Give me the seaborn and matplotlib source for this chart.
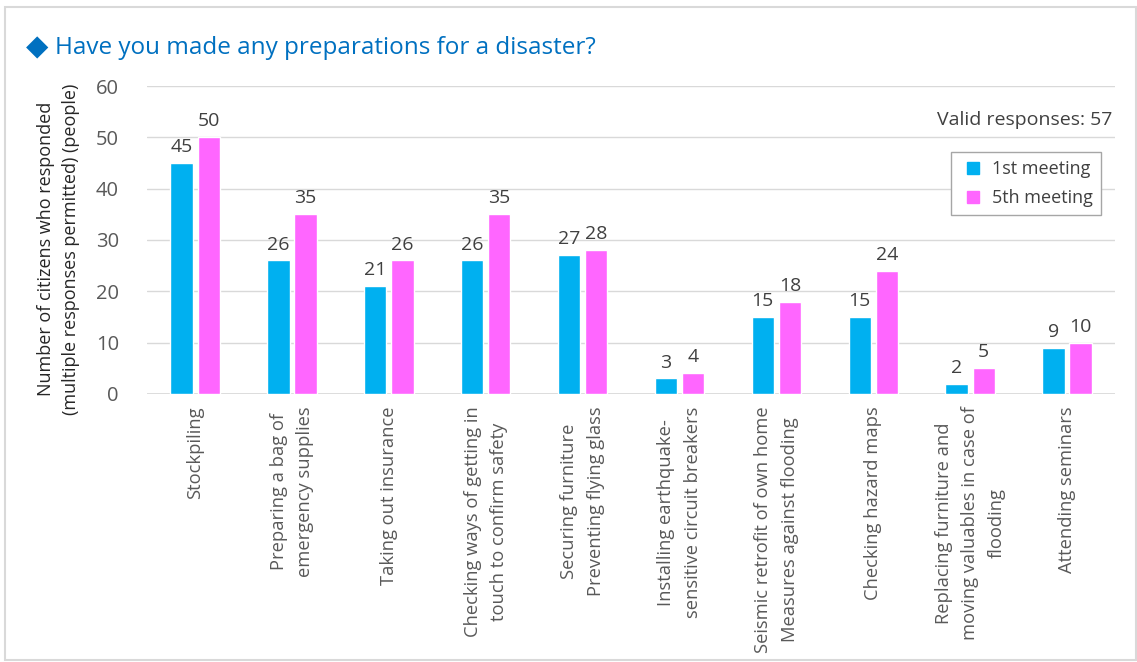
import pandas as pd
import seaborn as sns
import matplotlib.pyplot as plt
from matplotlib.patches import Rectangle
from matplotlib.lines import Line2D

# chart data
categories = [
    'Stockpiling',
    'Preparing a bag of\nemergency supplies',
    'Taking out insurance',
    'Checking ways of getting in\ntouch to confirm safety',
    'Securing furniture\nPreventing flying glass',
    'Installing earthquake-\nsensitive circuit breakers',
    'Seismic retrofit of own home\nMeasures against flooding',
    'Checking hazard maps',
    'Replacing furniture and\nmoving valuables in case of\nflooding',
    'Attending seminars',
]
first_meeting = [45, 26, 21, 26, 27, 3, 15, 15, 2, 9]
fifth_meeting = [50, 35, 26, 35, 28, 4, 18, 24, 5, 10]
series_names = ['1st meeting', '5th meeting']
colors = ['#00B0F0', '#FF66FF']
y_ticks = [0, 10, 20, 30, 40, 50, 60]

df = pd.DataFrame({
    'Item': categories * 2,
    'Meeting': [series_names[0]] * len(categories) + [series_names[1]] * len(categories),
    'People': first_meeting + fifth_meeting,
})

sns.set_style('white')
plt.rcParams['font.family'] = ['Open Sans', 'DejaVu Sans']
text_col = '#404040'

fig = plt.figure(figsize=(11.37, 6.62), dpi=100)
ax = fig.add_axes([0.129, 0.405, 0.852, 0.465])

sns.barplot(data=df, x='Item', y='People', hue='Meeting',
            palette=colors, width=0.56, gap=0.18,
            saturation=1, ax=ax)

for cont in ax.containers:
    ax.bar_label(cont, padding=5, fontsize=14, color=text_col)

ax.set_ylim(0, 60)
ax.set_yticks(y_ticks)
ax.yaxis.grid(True, color='#D9D9D9', linewidth=1)
ax.set_axisbelow(True)
for s in ax.spines.values():
    s.set_visible(False)
ax.axhline(0, color='#D9D9D9', linewidth=1.2, zorder=0)

ax.tick_params(axis='y', labelsize=14.5, labelcolor='#595959', length=0, pad=20)
ax.tick_params(axis='x', length=0, pad=9)
ax.set_xticks(range(len(categories)))
ax.set_xticklabels(categories, rotation=90, fontsize=13.2, color='#595959',
                   ha='center', va='top', multialignment='center')
for lbl in ax.get_xticklabels():
    lbl.set_linespacing(1.6)
ax.set_xlabel('')
ax.set_ylabel('Number of citizens who responded\n(multiple responses permitted) (people)',
              fontsize=13, color='#262626', linespacing=1.5)
ax.yaxis.set_label_coords(-0.069, 0.47)

# legend with square markers
handles = [Line2D([], [], marker='s', linestyle='', color=c, markersize=9) for c in colors]
ax.legend(handles, series_names, loc='upper right', bbox_to_anchor=(0.994, 0.815), fontsize=13,
          frameon=True, fancybox=False, edgecolor='#A6A6A6', framealpha=1,
          handlelength=1.5, handletextpad=0.3,
          borderpad=0.45, labelspacing=0.6, labelcolor='#404040')

ax.text(0.997, 0.89, 'Valid responses: 57', transform=ax.transAxes,
        ha='right', va='center', fontsize=14, color=text_col)

fig.text(0.023, 0.928, '\u25c6', fontsize=21, color='#0070C0', va='center',
         family=['DejaVu Sans'])
fig.text(0.048, 0.928, 'Have you made any preparations for a disaster?',
         fontsize=17.5, color='#0070C0', va='center')

fig.patches.append(Rectangle((0.004, 0.003), 0.995, 0.986, transform=fig.transFigure,
                             fill=False, edgecolor='#D9D9D9', linewidth=1.5))

fig.savefig('out.png', dpi=100)
